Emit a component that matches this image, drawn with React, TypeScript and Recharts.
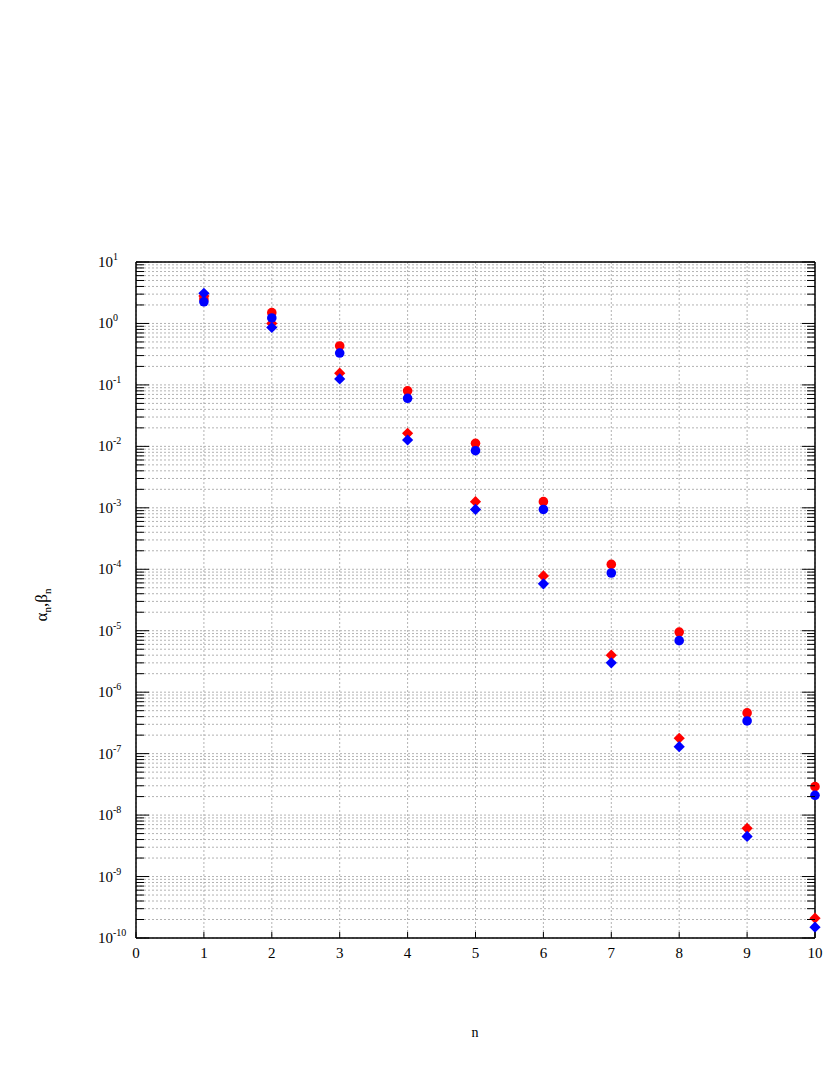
import React from 'react';
import { ScatterChart, Scatter, XAxis, YAxis, CartesianGrid } from 'recharts';

const nValues = [1, 2, 3, 4, 5, 6, 7, 8, 9, 10];
const alphaCircles = [2.5, 1.5, 0.43, 0.08, 0.0112, 0.00126, 1.2e-4, 9.5e-6, 4.6e-7, 2.9e-8];
const betaCircles = [2.25, 1.23, 0.33, 0.0605, 0.0085, 0.00094, 8.7e-5, 6.9e-6, 3.4e-7, 2.1e-8];
const alphaDiamonds = [2.8, 1.0, 0.155, 0.0163, 0.00126, 7.8e-5, 4.0e-6, 1.78e-7, 6.1e-9, 2.1e-10];
const betaDiamonds = [3.1, 0.86, 0.125, 0.0127, 0.00094, 5.8e-5, 3.0e-6, 1.3e-7, 4.5e-9, 1.5e-10];

const xTicks = [0, 1, 2, 3, 4, 5, 6, 7, 8, 9, 10];
const decades = [-10, -9, -8, -7, -6, -5, -4, -3, -2, -1, 0, 1];
const minorSteps = [2, 3, 4, 5, 6, 7, 8, 9];

const yTicks: number[] = [];
decades.forEach((e) => {
  yTicks.push(Math.pow(10, e));
  if (e < 1) minorSteps.forEach((k) => yTicks.push(k * Math.pow(10, e)));
});

const toPoints = (ys: number[]) => nValues.map((n, i) => ({ n, v: ys[i] }));

const FONT = '"Times New Roman", "Liberation Serif", "DejaVu Serif", serif';

const isMajor = (v: number) => {
  const l = Math.log10(v);
  return Math.abs(l - Math.round(l)) < 1e-6;
};

const LeftTick = (props: any) => {
  const { x, y, payload } = props;
  const major = isMajor(payload.value);
  const exp = Math.round(Math.log10(payload.value));
  return (
    <g>
      <line x1={x} x2={x + (major ? 13 : 8)} y1={y} y2={y} stroke="#000" strokeWidth={1} />
      {major && (
        <text x={x - 38} y={y} dominantBaseline="central" style={{ fontFamily: FONT }} fontSize={15} fill="#000">
          10
          <tspan dy={-6} fontSize={10}>{exp}</tspan>
        </text>
      )}
    </g>
  );
};

const RightTick = (props: any) => {
  const { x, y, payload } = props;
  const major = isMajor(payload.value);
  return <line x1={x} x2={x - (major ? 13 : 8)} y1={y} y2={y} stroke="#000" strokeWidth={1} />;
};

const BottomTick = (props: any) => {
  const { x, y, payload } = props;
  return (
    <g>
      <line x1={x} x2={x} y1={y} y2={y - 6} stroke="#000" strokeWidth={1} />
      <text x={x} y={y + 20} textAnchor="middle" style={{ fontFamily: FONT }} fontSize={15} fill="#000">
        {payload.value}
      </text>
    </g>
  );
};

const TopTick = (props: any) => {
  const { x, y } = props;
  return <line x1={x} x2={x} y1={y} y2={y + 6} stroke="#000" strokeWidth={1} />;
};

const Dot = (color: string) => (props: any) => (
  <circle cx={props.cx} cy={props.cy} r={4.8} fill={color} />
);

const Diamond = (color: string) => (props: any) => {
  const { cx, cy } = props;
  const d = 5.6;
  return <polygon points={`${cx},${cy - d} ${cx + d},${cy} ${cx},${cy + d} ${cx - d},${cy}`} fill={color} />;
};

const YLabel = () => (
  <text x={47} y={605} transform="rotate(-90, 47, 605)" textAnchor="middle" style={{ fontFamily: FONT }} fontSize={17} fill="#000">
    α<tspan dy={4} fontSize={11}>n</tspan>
    <tspan dy={-4}>,β</tspan>
    <tspan dy={4} fontSize={11}>n</tspan>
  </text>
);

const XLabel = () => (
  <text x={475} y={1037} textAnchor="middle" style={{ fontFamily: FONT }} fontSize={14} fill="#000">
    n
  </text>
);

export default function App() {
  return (
    <div style={{ position: 'absolute', left: 0, top: 0, background: '#fff' }}>
      <ScatterChart width={830} height={1075} margin={{ top: 261, right: 14, bottom: 117, left: 76 }}>
        <CartesianGrid stroke="#a0a0a0" strokeDasharray="2 2" strokeWidth={0.8} />
        <XAxis
          dataKey="n"
          type="number"
          domain={[0, 10]}
          ticks={xTicks}
          interval={0}
          tickSize={0}
          tickMargin={0}
          height={20}
          axisLine={{ stroke: '#000', strokeWidth: 1.5 }}
          tickLine={false}
          tick={BottomTick}
          label={{ content: XLabel }}
        />
        <XAxis
          xAxisId="top"
          orientation="top"
          type="number"
          domain={[0, 10]}
          ticks={xTicks}
          interval={0}
          tickSize={0}
          tickMargin={0}
          height={1}
          axisLine={{ stroke: '#000', strokeWidth: 1.5 }}
          tickLine={false}
          tick={TopTick}
        />
        <YAxis
          dataKey="v"
          type="number"
          scale="log"
          domain={[1e-10, 10]}
          allowDataOverflow
          ticks={yTicks}
          interval={0}
          tickSize={0}
          tickMargin={0}
          width={60}
          axisLine={{ stroke: '#000', strokeWidth: 1.5 }}
          tickLine={false}
          tick={LeftTick}
          label={{ content: YLabel }}
        />
        <YAxis
          yAxisId="right"
          orientation="right"
          type="number"
          scale="log"
          domain={[1e-10, 10]}
          allowDataOverflow
          ticks={yTicks}
          interval={0}
          tickSize={0}
          tickMargin={0}
          width={1}
          axisLine={{ stroke: '#000', strokeWidth: 1.5 }}
          tickLine={false}
          tick={RightTick}
        />
        <Scatter data={toPoints(alphaCircles)} shape={Dot('#ff0000')} isAnimationActive={false} />
        <Scatter data={toPoints(alphaDiamonds)} shape={Diamond('#ff0000')} isAnimationActive={false} />
        <Scatter data={toPoints(betaCircles)} shape={Dot('#0000ff')} isAnimationActive={false} />
        <Scatter data={toPoints(betaDiamonds)} shape={Diamond('#0000ff')} isAnimationActive={false} />
      </ScatterChart>
    </div>
  );
}
